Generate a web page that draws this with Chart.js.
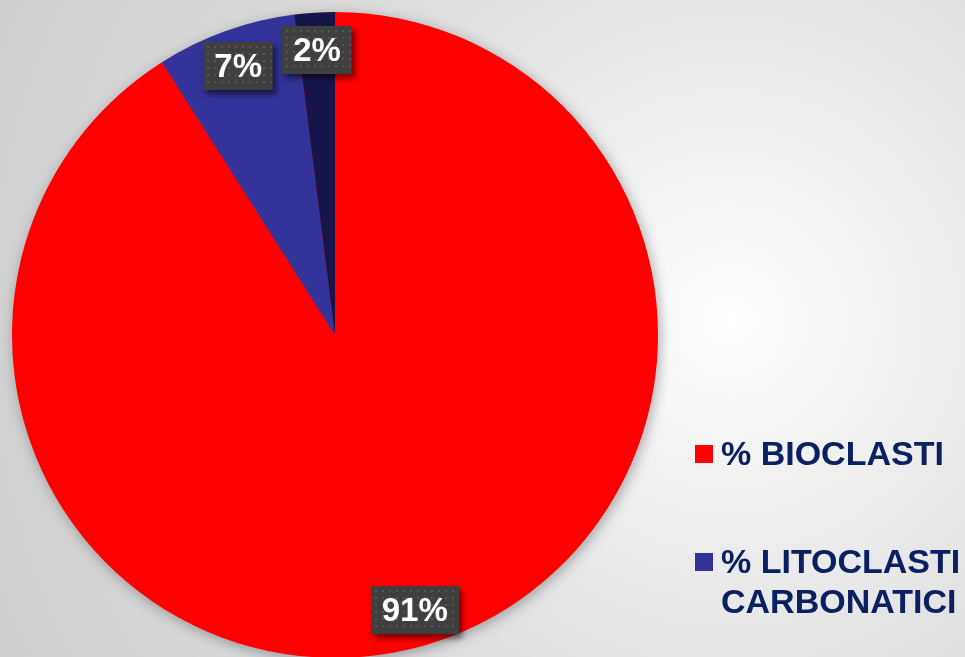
<!DOCTYPE html>
<html>
<head>
<meta charset="utf-8">
<script src="https://cdn.jsdelivr.net/npm/chart.js@4.4.0/dist/chart.umd.min.js"></script>
<style>
html, body { margin: 0; padding: 0; overflow: hidden; width: 965px; height: 657px; }
body { background: radial-gradient(circle at 730px 320px, #ffffff 0%, #f1f1f1 20%, #dfdfdf 52%, #cdcdcd 100%); }
canvas { display: block; }
</style>
</head>
<body>
<canvas id="chart" width="965" height="670"></canvas>
<script>
// data
var labels = ["% BIOCLASTI", "% LITOCLASTI\nCARBONATICI", "% ALTRO"];
var values = [91, 7, 2];
var colors = ["#ff0000", "#333399", "#15154a"];

var FONT = "'Liberation Sans', Arial, sans-serif";

// soft shadow round the pie
var pieShadow = {
	id: "pieShadow",
	beforeDatasetsDraw: function (chart)
	{
		var arc = chart.getDatasetMeta(0).data[0];
		var ctx = chart.ctx;
		ctx.save();
		ctx.shadowColor = "rgba(0,0,0,0.35)";
		ctx.shadowBlur = 14;
		ctx.shadowOffsetX = 2;
		ctx.shadowOffsetY = 3;
		ctx.fillStyle = colors[0];
		ctx.beginPath();
		ctx.arc(arc.x, arc.y, arc.outerRadius - 1, 0, Math.PI * 2);
		ctx.fill();
		ctx.restore();
	}
};

// dark boxed percent labels
var sliceLabels = {
	id: "sliceLabels",
	afterDatasetsDraw: function (chart)
	{
		var ctx = chart.ctx;
		var meta = chart.getDatasetMeta(0);
		var total = values.reduce(function (a, b) { return a + b; }, 0);
		meta.data.forEach(function (arc, i)
		{
			var mid = (arc.startAngle + arc.endAngle) / 2;
			var r = arc.outerRadius * 0.885;
			var x = arc.x + Math.cos(mid) * r;
			var y = arc.y + Math.sin(mid) * r;
			var text = Math.round(values[i] / total * 100) + "%";

			ctx.save();
			ctx.font = "bold 33px " + FONT;
			var w = ctx.measureText(text).width + 22;
			var h = 48;
			var bx = Math.round(x - w / 2), by = Math.round(y - h / 2);

			ctx.shadowColor = "rgba(0,0,0,0.55)";
			ctx.shadowBlur = 6;
			ctx.shadowOffsetX = 3;
			ctx.shadowOffsetY = 4;
			ctx.fillStyle = "#3f3f3f";
			ctx.fillRect(bx, by, w, h);
			ctx.shadowColor = "transparent";

			ctx.fillStyle = "#565656";
			for (var dy = 4; dy < h - 2; dy += 7)
				for (var dx = 4; dx < w - 2; dx += 7)
					ctx.fillRect(bx + dx, by + dy, 2, 2);

			ctx.fillStyle = "#ffffff";
			ctx.textAlign = "center";
			ctx.textBaseline = "middle";
			ctx.fillText(text, x, by + h / 2 + 2);
			ctx.restore();
		});
	}
};

// legend on the right
var sideLegend = {
	id: "sideLegend",
	afterDraw: function (chart)
	{
		var ctx = chart.ctx;
		var bg = chart.data.datasets[0].backgroundColor;
		ctx.save();
		ctx.font = "bold 34px " + FONT;
		ctx.textBaseline = "alphabetic";
		ctx.textAlign = "left";
		chart.data.labels.forEach(function (label, i)
		{
			var base = 465 + i * 108;
			ctx.fillStyle = bg[i];
			ctx.fillRect(695, base - 20, 18, 18);
			ctx.fillStyle = "#0a2060";
			label.split("\n").forEach(function (line, j)
			{
				ctx.fillText(line, 721, base + j * 40);
			});
		});
		ctx.restore();
	}
};

new Chart(document.getElementById("chart"), {
	type: "pie",
	data: {
		labels: labels,
		datasets: [{
			data: values,
			backgroundColor: colors,
			borderWidth: 0,
			hoverOffset: 0
		}]
	},
	options: {
		responsive: false,
		animation: false,
		layout: { padding: { left: 12, top: 12, right: 307, bottom: 12 } },
		plugins: {
			legend: { display: false },
			tooltip: { enabled: false }
		}
	},
	plugins: [pieShadow, sliceLabels, sideLegend]
});
</script>
</body>
</html>
